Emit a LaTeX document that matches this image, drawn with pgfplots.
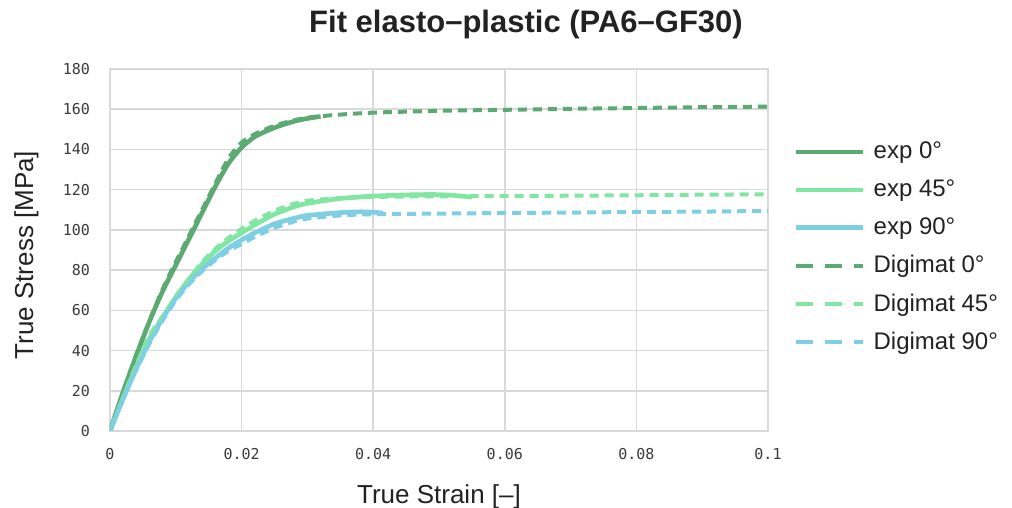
\documentclass[border=0pt]{standalone}
\usepackage{pgfplots}
\pgfplotsset{compat=1.18}
\usepackage{fontspec}
\setmainfont{Liberation Sans}
\newfontfamily\tickfont{DejaVu Sans Mono}
\usetikzlibrary{calc}
\definecolor{dg}{HTML}{5BAA72}
\definecolor{lg}{HTML}{80E6A2}
\definecolor{bl}{HTML}{7ECFE4}
\definecolor{gridc}{HTML}{D9D9D9}
\definecolor{txt}{HTML}{222222}
\definecolor{ticktxt}{HTML}{3A3A3A}
\begin{document}
\begin{tikzpicture}
\begin{axis}[name=a, scale only axis, width=329pt, height=181pt,
  xmin=0, xmax=0.1, ymin=0, ymax=180,
  xtick={0,0.02,0.04,0.06,0.08,0.1},
  xticklabels={0,0.02,0.04,0.06,0.08,0.1},
  ytick={0,20,40,60,80,100,120,140,160,180},
  yticklabels={0,20,40,60,80,100,120,140,160,180},
  grid=major, grid style={color=gridc, line width=0.75pt},
  axis line style={color=gridc, line width=0.75pt},
  major tick length=0pt,
  tick label style={font=\tickfont\fontsize{7.5}{9}\selectfont, color=ticktxt},
  xticklabel style={yshift=-5pt},
  yticklabel style={xshift=-6.5pt},
  xlabel={True Strain [--]},
  xlabel style={at={(axis description cs:0.5,-0.199)}, anchor=base, font=\fontsize{13}{15}\selectfont, color=txt},
  ylabel={True Stress [MPa]},
  ylabel style={at={(axis description cs:-0.117,0.486)}, anchor=base, font=\fontsize{13}{15}\selectfont, color=txt},
  legend style={at={(axis description cs:1.039,0.81)}, anchor=north west, draw=none, fill=none,
    font=\fontsize{12}{14}\selectfont, text=txt, row sep=5pt, inner sep=0pt,
    /tikz/every odd column/.append style={column sep=2pt}},
  legend cell align=left,
  legend image code/.code={\draw[#1] (0pt,0pt) -- (33.5pt,0pt);},
  every axis plot/.append style={smooth, tension=0.4},
]
% exp 0
\addplot[color=dg, line width=2.3pt] coordinates {
(0,0) (0.002,19.5) (0.004,37.5) (0.006,54.5) (0.008,69.5) (0.010,82.5) (0.012,95.5)
(0.014,108.5) (0.016,121.5) (0.018,133) (0.020,141) (0.022,146.3) (0.024,149.5)
(0.026,152) (0.028,154) (0.030,155.4) (0.032,156.4)};
\addlegendentry{exp 0°}
% exp 45
\addplot[color=lg, line width=2.3pt] coordinates {
(0,0) (0.002,16.5) (0.004,32) (0.006,46) (0.008,56.5) (0.010,66.5) (0.012,75.5) (0.014,83)
(0.016,89.5) (0.018,94.5) (0.020,98.5) (0.022,102.5) (0.025,107.8) (0.028,111.5)
(0.030,113.2) (0.035,115.6) (0.040,116.8) (0.045,117.4) (0.049,117.6) (0.052,117.2) (0.055,116.3)};
\addlegendentry{exp 45°}
% exp 90
\addplot[color=bl, line width=2.3pt] coordinates {
(0,0) (0.002,16) (0.004,31) (0.006,44.5) (0.008,56) (0.010,66) (0.012,74) (0.014,80.5)
(0.016,86) (0.018,91) (0.020,95) (0.022,98.5) (0.025,103) (0.028,105.8) (0.030,107.2)
(0.035,108.6) (0.038,109) (0.040,108.8) (0.0415,108.4)};
\addlegendentry{exp 90°}
% Digimat 0
\addplot[color=dg, line width=2pt, dash pattern=on 4.5pt off 3pt,
  legend image post style={dash pattern=on 8.5pt off 6pt}] coordinates {
(0,0) (0.004,38) (0.008,70.5) (0.012,97) (0.014,110) (0.016,123) (0.018,135.5) (0.020,143.4)
(0.022,147.6) (0.024,150.5) (0.026,152.8) (0.028,154.5) (0.030,155.8) (0.034,157.1)
(0.040,158.3) (0.050,159.2) (0.060,159.7) (0.070,160.2) (0.080,160.6) (0.090,161.0) (0.100,161.3)};
\addlegendentry{Digimat 0°}
% Digimat 45
\addplot[color=lg, line width=2pt, dash pattern=on 4.5pt off 3pt,
  legend image post style={dash pattern=on 8.5pt off 6pt}] coordinates {
(0,0) (0.002,17) (0.004,33) (0.006,47.5) (0.008,57) (0.010,67) (0.012,75.5) (0.014,84)
(0.016,90.5) (0.018,96) (0.020,100.5) (0.022,104.5) (0.025,109.5) (0.028,113) (0.030,114.5)
(0.035,115.8) (0.040,116.4) (0.050,116.7) (0.060,116.8) (0.070,117) (0.080,117.2) (0.090,117.5) (0.100,117.7)};
\addlegendentry{Digimat 45°}
% Digimat 90
\addplot[color=bl, line width=2pt, dash pattern=on 4.5pt off 3pt,
  legend image post style={dash pattern=on 8.5pt off 6pt}] coordinates {
(0,0) (0.002,16) (0.004,30.5) (0.006,43.5) (0.008,55) (0.010,65) (0.012,73) (0.014,79.5)
(0.016,85) (0.018,89.5) (0.020,93) (0.022,96.5) (0.025,101) (0.028,104.2) (0.030,105.6)
(0.035,107.2) (0.040,107.8) (0.050,108.1) (0.060,108.4) (0.070,108.6) (0.080,108.9) (0.090,109.1) (0.100,109.4)};
\addlegendentry{Digimat 90°}
\end{axis}
\node[anchor=base, font=\bfseries\fontsize{15.5}{18}\selectfont, text=txt, inner sep=0pt]
  at ($(a.south west)+(208pt,199pt)$) {Fit elasto\raisebox{0.1ex}{--}plastic (PA6\raisebox{0.1ex}{--}GF30)};
\pgfresetboundingbox
\path ($(a.south west)+(-55pt,-38.5pt)$) rectangle ($(a.south west)+(451pt,215.5pt)$);
\end{tikzpicture}
\end{document}
